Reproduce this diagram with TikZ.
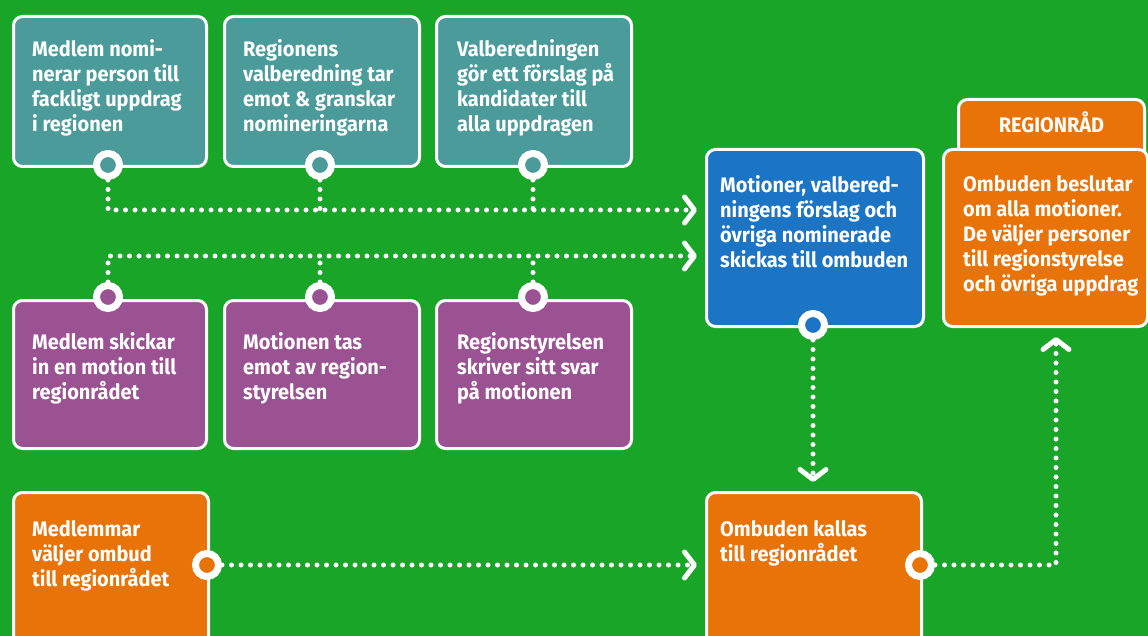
\documentclass[tikz,border=0pt]{standalone}
\usepackage{fontspec}
\setmainfont[FakeStretch=0.95]{Fira Sans}
\usetikzlibrary{arrows.meta,positioning,calc}

\definecolor{bggreen}{RGB}{24,165,40}
\definecolor{tealc}{RGB}{75,155,155}
\definecolor{purplec}{RGB}{155,82,147}
\definecolor{bluec}{RGB}{28,116,196}
\definecolor{orangec}{RGB}{232,115,8}

\tikzset{
  box/.style={draw=white, line width=3pt, rounded corners=9pt, anchor=north west, inner sep=0pt},
  boxtext/.style={text=white, font=\bfseries\fontsize{21}{25}\selectfont, align=left, anchor=north west, inner sep=0pt},
  ring/.style={circle, draw=white, line width=7pt, minimum size=23pt, inner sep=0pt},
  flow/.style={draw=white, line width=5pt, line cap=round, dash pattern=on 0pt off 9.5pt},
  tip/.style={-{Straight Barb[length=10pt,width=26pt,line width=5pt,round]}}
}

\begin{document}
\begin{tikzpicture}[x=1pt, y=-1pt]
    \useasboundingbox (0,0) rectangle (1148,636);
    \clip (0,0) rectangle (1148,636);
    \fill[bggreen] (0,0) rectangle (1148,636);

    % Nomination row
    \node[box, fill=tealc, minimum width=193pt, minimum height=150pt] (nom) at (12,15) {};
    \node[box, fill=tealc, minimum width=195pt, minimum height=150pt] (gransk) at (223,15) {};
    \node[box, fill=tealc, minimum width=195pt, minimum height=150pt] (forslag) at (435,15) {};
    \node[boxtext] (nomtxt) at ($(nom.north west)+(20,24)$) {Medlem nomi-\\nerar person till\\fackligt uppdrag\\i regionen};
    \node[boxtext] (granskTxt) at ($(gransk.north west)+(20,24)$) {Regionens\\valberedning tar\\emot \& granskar\\nomineringarna};
    \node[boxtext] (forslagtxt) at ($(forslag.north west)+(22,24)$) {Valberedningen\\gör ett förslag på\\kandidater till\\alla uppdragen};

    % Motion row
    \node[box, fill=purplec, minimum width=193pt, minimum height=148pt] (skicka) at (12,299) {};
    \node[box, fill=purplec, minimum width=195pt, minimum height=148pt] (motion) at (223,299) {};
    \node[box, fill=purplec, minimum width=195pt, minimum height=148pt] (svar) at (435,299) {};
    \node[boxtext] (skickatxt) at ($(skicka.north west)+(20,33)$) {Medlem skickar\\in en motion till\\regionrådet};
    \node[boxtext] (motiontxt) at ($(motion.north west)+(20,33)$) {Motionen tas\\emot av region-\\styrelsen};
    \node[boxtext] (svartxt) at ($(svar.north west)+(22,33)$) {Regionstyrelsen\\skriver sitt svar\\på motionen};

    % Ombud row
    \node[box, fill=orangec, minimum width=195pt, minimum height=170pt] (valj) at (12,491) {};
    \node[box, fill=orangec, minimum width=215pt, minimum height=170pt] (kallas) at (705,491) {};
    \node[boxtext] (valjtxt) at ($(valj.north west)+(20,29)$) {Medlemmar\\väljer ombud\\till regionrådet};
    \node[boxtext] (kallastxt) at ($(kallas.north west)+(15,29)$) {Ombuden kallas\\till regionrådet};

    % Right column
    \node[box, fill=bluec, minimum width=217pt, minimum height=177pt] (skickas) at (705,148) {};
    \node[boxtext] (skickastxt) at ($(skickas.north west)+(15,27)$) {Motioner, valbered-\\ningens förslag och\\övriga nominerade\\skickas till ombuden};
    \node[box, fill=orangec, minimum width=186pt, minimum height=62pt] (tab) at (957,98) {};
    \node[boxtext, anchor=base] (tabtxt) at ($(tab.north)+(0,35)$) {REGIONRÅD};
    \node[box, fill=orangec, minimum width=204pt, minimum height=177pt] (beslut) at (942,148) {};
    \node[boxtext] (beslutTxt) at ($(beslut.north west)+(21,27)$) {Ombuden beslutar\\om alla motioner.\\De väljer personer\\till regionstyrelse\\och övriga uppdrag};

    % Rings
    \node[ring, fill=tealc] (r1) at (108,165) {};
    \node[ring, fill=tealc] (r2) at (320,165) {};
    \node[ring, fill=tealc] (r3) at (533,165) {};
    \node[ring, fill=purplec] (r4) at (108,297) {};
    \node[ring, fill=purplec] (r5) at (320,297) {};
    \node[ring, fill=purplec] (r6) at (533,297) {};
    \node[ring, fill=orangec] (r7) at (207,565) {};
    \node[ring, fill=orangec] (r8) at (920,565) {};
    \node[ring, fill=bluec] (r9) at (813,325) {};

    % Arrow ends
    \coordinate (in1) at (697,210);
    \coordinate (in2) at (697,256);
    \coordinate (in3) at (697,565);
    \coordinate (in4) at (813,482);
    \coordinate (in5) at (1056,337);

    % Flows
    \draw[flow, tip] (r1) |- (in1);
    \draw[flow] (r2) -- (r2 |- in1);
    \draw[flow] (r3) -- (r3 |- in1);
    \draw[flow, tip] (r4) |- (in2);
    \draw[flow] (r5) -- (r5 |- in2);
    \draw[flow] (r6) -- (r6 |- in2);
    \draw[flow, tip] (r7) -- (in3);
    \draw[flow, tip] (r9) -- (in4);
    \draw[flow, tip] (r8) -| (in5);
\end{tikzpicture}
\end{document}
